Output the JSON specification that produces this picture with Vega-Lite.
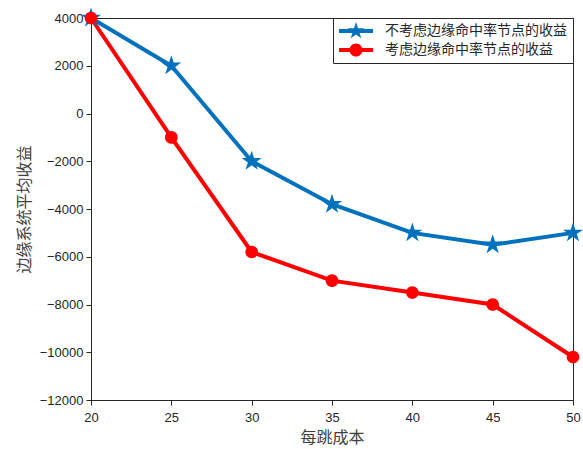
{
  "$schema": "https://vega.github.io/schema/vega-lite/v6.json",
  "width": 482,
  "height": 382,
  "autosize": {"type": "none"},
  "padding": {"left": 91, "top": 18, "right": 10, "bottom": 49},
  "background": "white",
  "config": {
    "view": {"stroke": "#262626", "strokeWidth": 1},
    "axis": {
      "domainColor": "#262626",
      "domainWidth": 1,
      "tickColor": "#262626",
      "tickWidth": 1,
      "labelColor": "#262626",
      "labelFont": "Liberation Sans",
      "labelFontSize": 13,
      "labelFlush": false,
      "labelOverlap": false,
      "grid": false,
      "titleFont": "Noto Sans CJK SC",
      "titleFontSize": 16,
      "titleFontWeight": "normal",
      "titleColor": "#404040"
    }
  },
  "data": {
    "values": [
      {"cost": 20, "value": 4000, "series": "不考虑边缘命中率节点的收益"},
      {"cost": 25, "value": 2000, "series": "不考虑边缘命中率节点的收益"},
      {"cost": 30, "value": -2000, "series": "不考虑边缘命中率节点的收益"},
      {"cost": 35, "value": -3800, "series": "不考虑边缘命中率节点的收益"},
      {"cost": 40, "value": -5000, "series": "不考虑边缘命中率节点的收益"},
      {"cost": 45, "value": -5500, "series": "不考虑边缘命中率节点的收益"},
      {"cost": 50, "value": -5000, "series": "不考虑边缘命中率节点的收益"},
      {"cost": 20, "value": 4000, "series": "考虑边缘命中率节点的收益"},
      {"cost": 25, "value": -1000, "series": "考虑边缘命中率节点的收益"},
      {"cost": 30, "value": -5800, "series": "考虑边缘命中率节点的收益"},
      {"cost": 35, "value": -7000, "series": "考虑边缘命中率节点的收益"},
      {"cost": 40, "value": -7500, "series": "考虑边缘命中率节点的收益"},
      {"cost": 45, "value": -8000, "series": "考虑边缘命中率节点的收益"},
      {"cost": 50, "value": -10200, "series": "考虑边缘命中率节点的收益"}
    ]
  },
  "layer": [
    {
      "mark": {"type": "line", "strokeWidth": 4},
      "encoding": {
        "x": {
          "field": "cost", "type": "quantitative",
          "scale": {"domain": [20, 50], "nice": false, "zero": false},
          "axis": {"values": [20, 25, 30, 35, 40, 45, 50], "format": "d", "title": "每跳成本", "tickSize": 5, "labelPadding": 6, "titlePadding": 5}
        },
        "y": {
          "field": "value", "type": "quantitative",
          "scale": {"domain": [-12000, 4000], "nice": false, "zero": false},
          "axis": {"values": [-12000, -10000, -8000, -6000, -4000, -2000, 0, 2000, 4000], "format": "d", "title": "边缘系统平均收益", "tickSize": 5, "labelPadding": 3, "titlePadding": 7}
        },
        "color": {
          "field": "series", "type": "nominal",
          "scale": {"domain": ["不考虑边缘命中率节点的收益", "考虑边缘命中率节点的收益"], "range": ["#0072BD", "#FF0000"]},
          "legend": {
            "title": null,
            "orient": "top-right",
            "offset": 0,
            "padding": 6,
            "strokeColor": "#262626",
            "fillColor": "white",
            "symbolSize": 196,
            "symbolOffset": 10,
            "labelOffset": 22,
            "labelLimit": 0,
            "labelFont": "Noto Sans CJK SC",
            "labelFontSize": 14,
            "labelColor": "#262626",
            "rowPadding": 4,
            "encode": {
              "symbols": {
                "update": {
                  "shape": {"signal": "datum.value === '不考虑边缘命中率节点的收益' ? 'M0,-1.29L0.288,-0.396L1.227,-0.399L0.466,0.151L0.759,1.044L0,0.49L-0.759,1.044L-0.466,0.151L-1.227,-0.399L-0.288,-0.396Z M-2.43,-0.29H2.43V0.29H-2.43Z' : 'M-0.93,0A0.93,0.93 0 1,1 0.93,0A0.93,0.93 0 1,1 -0.93,0Z M-2.43,-0.29H2.43V0.29H-2.43Z'"},
                  "fill": {"signal": "datum.value === '不考虑边缘命中率节点的收益' ? '#0072BD' : '#FF0000'"},
                  "stroke": {"value": "transparent"},
                  "strokeWidth": {"value": 0},
                  "size": {"value": 196},
                  "opacity": {"value": 1}
                }
              }
            }
          }
        }
      }
    },
    {
      "transform": [{"filter": "datum.series === '不考虑边缘命中率节点的收益'"}],
      "mark": {"type": "point", "filled": true, "size": 441, "opacity": 1, "strokeWidth": 0, "color": "#0072BD", "shape": "M0,-1L0.223,-0.307L0.951,-0.309L0.361,0.117L0.588,0.809L0,0.38L-0.588,0.809L-0.361,0.117L-0.951,-0.309L-0.223,-0.307Z"},
      "encoding": {
        "x": {"field": "cost", "type": "quantitative", "axis": null},
        "y": {"field": "value", "type": "quantitative", "axis": null}
      }
    },
    {
      "transform": [{"filter": "datum.series === '考虑边缘命中率节点的收益'"}],
      "mark": {"type": "point", "filled": true, "size": 441, "opacity": 1, "strokeWidth": 0, "color": "#FF0000", "shape": "M-0.6,0A0.6,0.6 0 1,1 0.6,0A0.6,0.6 0 1,1 -0.6,0Z"},
      "encoding": {
        "x": {"field": "cost", "type": "quantitative", "axis": null},
        "y": {"field": "value", "type": "quantitative", "axis": null}
      }
    }
  ],
  "resolve": {"axis": {"x": "independent", "y": "independent"}}
}
